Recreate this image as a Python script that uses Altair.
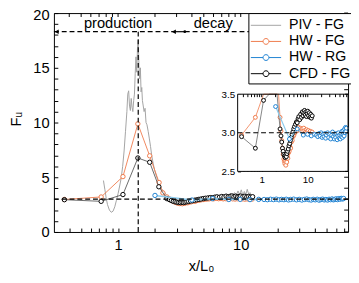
import altair as alt
import pandas as pd

FONT = "Liberation Sans"

# ---------------- data ----------------
series_names = ["PIV - FG", "HW - FG", "HW - RG", "CFD - FG"]

piv_x = [0.76, 0.78, 0.80, 0.82, 0.85, 0.88, 0.91, 0.94, 0.97, 1.00,
         1.03, 1.06, 1.09, 1.12, 1.15, 1.18, 1.20, 1.22, 1.24, 1.26,
         1.28, 1.30, 1.32, 1.34, 1.36, 1.38, 1.40, 1.42, 1.44, 1.46,
         1.48, 1.50, 1.52, 1.54, 1.56, 1.58, 1.60, 1.63, 1.66, 1.69,
         1.72, 1.76, 1.80, 1.84, 1.88, 1.93, 1.98, 2.04, 2.10, 2.17,
         2.24, 2.32, 2.40, 2.50, 2.60, 2.70, 2.82, 2.95, 3.10, 3.25,
         3.40, 3.60, 3.80, 4.00, 4.25, 4.50, 4.75, 5.00, 5.30, 5.60,
         5.90, 6.20, 6.50, 6.80, 7.10, 7.40, 7.70, 8.00, 8.30, 8.60,
         8.90, 9.20, 9.50, 9.80, 10.1, 10.4, 10.7, 11.0, 11.3, 11.6,
         11.9, 12.2]
piv_f = [4.7, 3.9, 3.1, 2.5, 2.0, 1.8, 1.9, 2.3, 2.9, 3.5,
         4.2, 4.9, 6.0, 7.4, 9.2, 11.0, 12.6, 12.9, 11.5, 11.1,
         12.2, 11.4, 11.0, 12.0, 12.6, 14.5, 16.0, 14.6, 16.8, 17.6,
         15.2, 14.0, 15.0, 12.8, 13.2, 12.0, 11.6, 11.0, 11.3, 10.0,
         9.8, 9.2, 8.5, 7.8, 7.0, 6.3, 5.7, 5.2, 4.8, 4.3,
         4.0, 3.8, 3.6, 3.3, 3.15, 3.0, 2.9, 2.95, 2.85, 2.9,
         2.95, 2.9, 3.0, 2.95, 3.05, 3.0, 3.1, 3.05, 3.15, 3.1,
         3.2, 3.15, 3.3, 3.2, 3.4, 3.25, 3.45, 3.3, 3.55, 3.3,
         3.6, 3.35, 3.75, 3.4, 3.85, 3.35, 3.7, 3.4, 3.9, 3.45,
         3.6, 3.3]

hwfg_x = [0.365, 0.728, 1.096, 1.45, 1.81, 2.16, 2.32, 2.5,
          2.62, 2.72, 2.82, 2.92, 3.02, 3.1, 3.18, 3.26, 3.34, 3.42,
          3.5, 3.6, 3.7, 3.82, 3.95, 4.1, 4.25, 4.4, 4.6, 4.8,
          5.0, 5.25, 5.5, 5.75, 6.0, 6.3, 6.6, 6.9, 7.2, 7.5,
          7.8, 8.2, 8.6, 9.0, 9.4, 9.8, 10.3, 10.8, 11.3, 11.8,
          12.4]
hwfg_f = [2.97, 3.2, 5.06, 9.88, 6.96, 4.52, 3.57, 3.2,
          3.02, 2.9, 2.8, 2.72, 2.66, 2.63, 2.6, 2.64, 2.58, 2.66,
          2.62, 2.7, 2.67, 2.74, 2.76, 2.82, 2.8, 2.88, 2.9, 2.95,
          2.97, 3.0, 3.02, 3.05, 3.03, 3.07, 3.04, 3.06, 3.03, 3.05,
          3.02, 3.06, 3.03, 3.01, 3.04, 3.02, 3.03, 3.0, 3.02, 2.99,
          3.01]

hwrg_x = [2.0, 4.0, 5.9, 8.0, 9.9, 11.9, 14.0,
          15.5, 16.5, 17.5, 18.5, 19.5, 20.5, 21.5, 22.5, 23.5, 24.5, 25.5,
          27, 28.5, 30, 31.5, 33, 34.5, 36, 37.5, 39, 40.5,
          42, 43.5, 45, 46.5, 48, 49.5, 51, 52.5, 54, 55.5,
          57, 58.5, 60, 61.5, 63, 64.5, 66, 67.5, 69]
hwrg_f = [3.34, 2.92, 3.05, 2.97, 2.98, 2.96, 2.98,
          2.97, 2.95, 2.99, 2.96, 3.0, 2.94, 2.98, 2.95, 2.99, 2.93, 2.97,
          3.0, 2.94, 2.98, 2.92, 2.97, 3.01, 2.95, 2.92, 2.98, 2.94,
          2.99, 2.91, 2.96, 3.0, 2.93, 2.97, 2.92, 2.99, 2.95, 3.02,
          2.94, 2.98, 3.03, 2.96, 3.05, 3.0, 3.07, 3.02, 3.06]

cfd_x = [0.365, 0.728, 1.096, 1.45, 1.81, 2.15, 2.5,
         2.62, 2.72, 2.82, 2.92, 3.02, 3.12, 3.22, 3.32, 3.42, 3.52,
         3.64, 3.76, 3.9, 4.05, 4.2, 4.38, 4.56, 4.75, 4.95, 5.15,
         5.4, 5.65, 5.9, 6.15, 6.4, 6.7, 7.0, 7.3, 7.6, 7.9,
         8.2, 8.5, 8.8, 9.1, 9.4, 9.7, 10.0, 10.4, 10.8, 11.2,
         11.6, 12.0, 12.5]
cfd_f = [2.95, 2.8, 3.42, 6.76, 6.37, 4.13, 3.05,
         2.96, 2.88, 2.8, 2.76, 2.72, 2.7, 2.68, 2.71, 2.69, 2.73,
         2.76, 2.79, 2.83, 2.86, 2.9, 2.94, 2.98, 3.01, 3.05, 3.08,
         3.11, 3.14, 3.13, 3.18, 3.21, 3.17, 3.24, 3.2, 3.27, 3.22,
         3.26, 3.29, 3.23, 3.27, 3.21, 3.25, 3.28, 3.22, 3.26, 3.2,
         3.24, 3.19, 3.22]

# reference lines / annotations
f_ref = 3.0
x_split = 1.46
arrow_f = 18.3
region_labels = ["production", "decay"]
region_label_x = [1.0, 5.97]
region_label_f = [19.1, 19.1]

# ticks
x_ticks = [0.4, 0.5, 0.6, 0.7, 0.8, 0.9, 1, 2, 3, 4, 5, 6, 7, 8, 9,
           10, 20, 30, 40, 50, 60, 70]
y_ticks = list(range(0, 21))
inset_y_ticks = [2.5, 3.0, 3.5]

X_DOM = [0.3, 75]
Y_DOM = [0, 20]
INSET_Y_DOM = [2.5, 3.5]

# ---------------- styles ----------------
GRAY = "#a3a3a3"
ORANGE = "#ef7a4b"
BLUE_LINE = "#8ccbed"
BLUE_PT = "#1f82d2"
BLACK = "#000000"
CFD_LINE = "#444444"

W, H = 301, 224

def df(xs, fs):
    return pd.DataFrame({"x": xs, "F": fs})

piv_df = df(piv_x, piv_f)
hwfg_df = df(hwfg_x, hwfg_f)
hwrg_df = df(hwrg_x, hwrg_f)
cfd_df = df(cfd_x, cfd_f)

# ---------------- main panel ----------------
xs = alt.Scale(type="log", domain=X_DOM)
ys = alt.Scale(domain=Y_DOM)

ax_x = alt.Axis(orient="bottom", values=x_ticks, format="~g",
                labelExpr="datum.value == 1 || datum.value == 10 ? datum.label : ''",
                offset=-4, tickSize=4, domain=False, grid=False, labelOverlap=False,
                labelPadding=6, labelFont=FONT, labelFontSize=15, labelColor="black",
                tickColor="black", title="x/L₀", titleFont=FONT, titleFontSize=15,
                titleFontWeight="normal", titleColor="black", titleX=150.5, titleY=38,
                titleBaseline="middle", titleAlign="center")
ax_y = alt.Axis(orient="left", values=y_ticks,
                labelExpr="datum.value % 5 == 0 ? datum.label : ''",
                labelOffset={"condition": {"test": "datum.value == 20", "value": 2}, "value": 0},
                offset=-4, tickSize=4, domain=False, grid=False, labelOverlap=False,
                labelFlush=False, labelBound=False,
                labelPadding=5, labelFont=FONT, labelFontSize=15, labelColor="black",
                tickColor="black", title="Fᵤ", titleFont=FONT, titleFontSize=15,
                titleFontWeight="normal", titleColor="black", titleAngle=270,
                titleX=-43, titleY=108, titleBaseline="middle", titleAlign="center")

def MX():
    return alt.X("x:Q", scale=xs, axis=ax_x)

def MY():
    return alt.Y("F:Q", scale=ys, axis=ax_y)

def pts(data, stroke, size=20):
    return alt.Chart(data).mark_point(shape="circle", fill="white", stroke=stroke,
                                      strokeWidth=1, size=size, opacity=1)

piv_line = alt.Chart(piv_df).mark_line(color=GRAY, strokeWidth=1).encode(x=MX(), y=MY())
hwfg_line = alt.Chart(hwfg_df).mark_line(color=ORANGE, strokeWidth=0.9).encode(x=MX(), y=MY())
hwfg_pts = pts(hwfg_df, ORANGE).encode(x=MX(), y=MY())
cfd_line = alt.Chart(cfd_df).mark_line(color=CFD_LINE, strokeWidth=0.8).encode(x=MX(), y=MY())
cfd_pts = pts(cfd_df, BLACK).encode(x=MX(), y=MY())
hwrg_line = alt.Chart(hwrg_df).mark_line(color=BLUE_LINE, strokeWidth=1.6).encode(x=MX(), y=MY())
hwrg_pts = pts(hwrg_df, BLUE_PT).encode(x=MX(), y=MY())

hline_df = pd.DataFrame({"x": [X_DOM[0]], "x2": [X_DOM[1]], "F": [f_ref]})
hline = alt.Chart(hline_df).mark_rule(color="black", strokeWidth=1.2, strokeDash=[5, 3]).encode(
    x=MX(), x2="x2:Q", y=MY())

vline_df = pd.DataFrame({"x": [x_split], "F": [0.0], "F2": [arrow_f]})
vline = alt.Chart(vline_df).mark_rule(color="black", strokeWidth=1.2, strokeDash=[5, 3]).encode(
    x=MX(), y=MY(), y2="F2:Q")

arrow_dash_df = pd.DataFrame({"x": [X_DOM[0], 3.5], "x2": [2.85, X_DOM[1]], "F": [arrow_f, arrow_f]})
arrow_dash = alt.Chart(arrow_dash_df).mark_rule(color="black", strokeWidth=1.2, strokeDash=[5, 3]).encode(
    x=MX(), x2="x2:Q", y=MY())
arrow_solid_df = pd.DataFrame({"x": [2.85], "x2": [3.5], "F": [arrow_f]})
arrow_solid = alt.Chart(arrow_solid_df).mark_rule(color="black", strokeWidth=1.2).encode(
    x=MX(), x2="x2:Q", y=MY())
heads_df = pd.DataFrame({"x": [0.316, 2.85], "F": [arrow_f, arrow_f]})
heads = alt.Chart(heads_df).mark_point(shape="triangle-left", filled=True, color="black",
                                       size=22, opacity=1).encode(x=MX(), y=MY())
dot_df = pd.DataFrame({"x": [3.5], "F": [arrow_f]})
dot = alt.Chart(dot_df).mark_point(shape="circle", filled=True, color="black",
                                   size=8, opacity=1).encode(x=MX(), y=MY())

labels_df = pd.DataFrame({"x": region_label_x, "F": region_label_f, "t": region_labels})
labels = alt.Chart(labels_df).mark_text(font=FONT, fontSize=15, color="black",
                                        align="center", baseline="middle").encode(
    x=MX(), y=MY(), text="t:N")

top_ticks = alt.Chart(pd.DataFrame({"x": x_ticks})).mark_rule(color="black", strokeWidth=1).encode(
    x=MX(), y=alt.value(0), y2=alt.value(4))
right_ticks = alt.Chart(pd.DataFrame({"F": y_ticks})).mark_rule(color="black", strokeWidth=1).encode(
    y=MY(), x=alt.value(W), x2=alt.value(W - 4))

# legend (drawn by Vega-Lite from a colour/shape scale)
line_only = "M-1.72,0H1.72"
line_circle = ("M-1.72,0H-0.33M0.33,0H1.72"
               "M-0.33,0A0.33,0.33,0,1,1,0.33,0A0.33,0.33,0,1,1,-0.33,0")
legend_colors = [GRAY, ORANGE, BLUE_PT, BLACK]
legend_shapes = [line_only, line_circle, line_circle, line_circle]
leg = alt.Legend(title=None, orient="none", legendX=199, legendY=0, padding=3,
                 strokeColor="black", fillColor="white", labelFont=FONT,
                 labelFontSize=14.5, labelColor="black", symbolSize=324,
                 symbolStrokeWidth=1, symbolOffset=5.5, labelOffset=14,
                 rowPadding=0.5, symbolOpacity=1, symbolFillColor="white",
                 labelLimit=300, cornerRadius=0)
legend_df = pd.DataFrame({"series": series_names, "x": [1.0] * 4, "F": [10.0] * 4})
legend_layer = alt.Chart(legend_df).mark_point(opacity=0).encode(
    x=MX(), y=MY(),
    color=alt.Color("series:N", scale=alt.Scale(domain=series_names, range=legend_colors), legend=leg),
    shape=alt.Shape("series:N", scale=alt.Scale(domain=series_names, range=legend_shapes), legend=leg),
)

main = alt.layer(piv_line, hwfg_line, hwfg_pts, cfd_line, cfd_pts, hwrg_line, hwrg_pts,
                 hline, vline, arrow_dash, arrow_solid, heads, dot, labels,
                 top_ticks, right_ticks, legend_layer)

# ---------------- inset ----------------
IX0, IX1, IY0, IY1 = 188, W, 162, 83
xsi = alt.Scale(type="log", domain=X_DOM, range=[IX0, IX1], clamp=True)
ysi = alt.Scale(domain=INSET_Y_DOM, range=[IY0, IY1], clamp=True)

ax_xi = alt.Axis(orient="bottom", values=x_ticks, format="~g",
                 labelExpr="datum.value == 1 || datum.value == 10 ? datum.label : ''",
                 offset=IY0 - 3 - H, tickSize=3, domain=False, grid=False, labelOverlap=False,
                 labelFlush=False, labelPadding=3, labelFont=FONT, labelFontSize=10,
                 labelColor="black", tickColor="black", title=None)
ax_yi = alt.Axis(orient="left", values=inset_y_ticks, format=".1f",
                 offset=-(IX0 + 3), tickSize=3, domain=False, grid=False, labelOverlap=False,
                 labelFlush=False, labelPadding=3, labelFont=FONT, labelFontSize=10,
                 labelColor="black", tickColor="black", title=None)

def IX():
    return alt.X("x:Q", scale=xsi, axis=ax_xi)

def IY():
    return alt.Y("F:Q", scale=ysi, axis=ax_yi)

in_range = (alt.datum.F >= INSET_Y_DOM[0]) & (alt.datum.F <= INSET_Y_DOM[1])

frame_df = pd.DataFrame({"x": [X_DOM[0]], "x2": [X_DOM[1]],
                         "F": [INSET_Y_DOM[0]], "F2": [INSET_Y_DOM[1]]})
i_bg = alt.Chart(frame_df).mark_rect(fill="white").encode(x=IX(), x2="x2:Q", y=IY(), y2="F2:Q")
i_hwfg_line = alt.Chart(hwfg_df).mark_line(color=ORANGE, strokeWidth=0.8).encode(x=IX(), y=IY())
i_hwfg_pts = pts(hwfg_df, ORANGE, 16).transform_filter(in_range).encode(x=IX(), y=IY())
i_cfd_line = alt.Chart(cfd_df).mark_line(color="#666666", strokeWidth=0.8).encode(x=IX(), y=IY())
i_cfd_pts = pts(cfd_df, BLACK, 16).transform_filter(in_range).encode(x=IX(), y=IY())
i_hwrg_line = alt.Chart(hwrg_df).mark_line(color=BLUE_LINE, strokeWidth=1.2).encode(x=IX(), y=IY())
i_hwrg_pts = pts(hwrg_df, BLUE_PT, 16).transform_filter(in_range).encode(x=IX(), y=IY())
i_hline = alt.Chart(hline_df).mark_rule(color="black", strokeWidth=1.1, strokeDash=[5, 3]).encode(
    x=IX(), x2="x2:Q", y=IY())
i_top = alt.Chart(pd.DataFrame({"x": x_ticks, "F": [INSET_Y_DOM[1]] * len(x_ticks)})).mark_rule(
    color="black", strokeWidth=1, y2Offset=3).encode(x=IX(), y=IY(), y2="F:Q")
i_right = alt.Chart(pd.DataFrame({"F": inset_y_ticks, "x": [X_DOM[1]] * len(inset_y_ticks)})).mark_rule(
    color="black", strokeWidth=1, x2Offset=-3).encode(y=IY(), x=IX(), x2="x:Q")
i_frame = alt.Chart(frame_df).mark_rect(fillOpacity=0, stroke="black", strokeWidth=1).encode(
    x=IX(), x2="x2:Q", y=IY(), y2="F2:Q")

inset = alt.layer(i_bg, i_hwfg_line, i_hwfg_pts, i_cfd_line, i_cfd_pts, i_hwrg_line,
                  i_hwrg_pts, i_hline, i_top, i_right, i_frame)

chart = (
    alt.layer(main, inset)
    .resolve_scale(x="independent", y="independent")
    .properties(width=W, height=H, autosize=alt.AutoSizeParams(type="none"),
                padding={"left": 47, "top": 2, "right": 3, "bottom": 49},
                background="white")
    .configure_view(stroke="black", strokeWidth=1)
)

chart.save("out.html", embed_options={"renderer": "svg", "actions": False})
